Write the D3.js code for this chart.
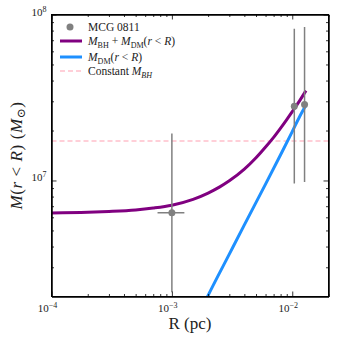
<!DOCTYPE html>
<html>
<head>
<meta charset="utf-8">
<script src="https://cdn.jsdelivr.net/npm/d3@7"></script>
<style>
body { margin: 0; background: #fff; }
text { font-family: "Liberation Serif", "DejaVu Serif", serif; fill: #222; }
</style>
</head>
<body>
<script>
// values
var obsName = "MCG 0811";
var obsR = [1.0e-3, 1.04e-2, 1.265e-2];
var obsM = [6.39e6, 2.80e7, 2.87e7];
var obsMLow = [2.12e6, 9.6e6, 9.8e6];
var obsMHigh = [1.92e7, 8.2e7, 8.4e7];
var obsRLow = [7.6e-4, 1.04e-2, 1.265e-2];
var obsRHigh = [1.27e-3, 1.04e-2, 1.265e-2];

var totalR = [1e-4, 2e-4, 3e-4, 5e-4, 7e-4, 1e-3, 1.5e-3, 2e-3, 2.5e-3, 3e-3, 4e-3, 5e-3, 6e-3, 7e-3, 8e-3, 9e-3, 1e-2, 1.15e-2, 1.3e-2];
var totalM = [6.38e6, 6.43e6, 6.50e6, 6.64e6, 6.82e6, 7.10e6, 7.70e6, 8.40e6, 9.15e6, 9.95e6, 1.17e7, 1.37e7, 1.59e7, 1.82e7, 2.07e7, 2.33e7, 2.60e7, 3.02e7, 3.48e7];

var dmR = [1.9e-3, 2e-3, 3e-3, 4e-3, 6e-3, 8e-3, 1e-2, 1.15e-2, 1.3e-2];
var dmM = [1.88e6, 2.03e6, 3.60e6, 5.40e6, 9.50e6, 1.43e7, 1.97e7, 2.42e7, 2.84e7];

var constBH = 1.73e7;

var xMajor = [1e-4, 1e-3, 1e-2];
var xMajorExp = ["\u22124", "\u22123", "\u22122"];
var xMinor = [2e-4, 3e-4, 4e-4, 5e-4, 6e-4, 7e-4, 8e-4, 9e-4, 2e-3, 3e-3, 4e-3, 5e-3, 6e-3, 7e-3, 8e-3, 9e-3, 2e-2];
var yMajor = [1e7, 1e8];
var yMajorExp = ["7", "8"];
var yMinor = [3e6, 4e6, 5e6, 6e6, 7e6, 8e6, 9e6, 2e7, 3e7, 4e7, 5e7, 6e7, 7e7, 8e7, 9e7];

var w = 343, h = 343;
var padL = 51.5, padR = 328.5, padT = 14.5, padB = 296.5;

var svg = d3.select("body").append("svg")
  .attr("width", w)
  .attr("height", h);

var x = d3.scaleLog().domain([1e-4, 2e-2]).range([padL, padR]);
var y = d3.scaleLog().domain([2e6, 1e8]).range([padB, padT]);

svg.append("clipPath").attr("id", "plotclip")
  .append("rect")
  .attr("x", padL).attr("y", padT)
  .attr("width", padR - padL).attr("height", padB - padT);

var plot = svg.append("g").attr("clip-path", "url(#plotclip)");

// constant BH mass
plot.append("line")
  .attr("x1", padL).attr("x2", padR)
  .attr("y1", y(constBH)).attr("y2", y(constBH))
  .attr("stroke", "pink")
  .attr("stroke-width", 1.5)
  .attr("stroke-dasharray", "5,3");

var line = d3.line()
  .x(function(d) { return x(d[0]); })
  .y(function(d) { return y(d[1]); })
  .curve(d3.curveMonotoneX);

plot.append("path")
  .datum(d3.zip(totalR, totalM))
  .attr("d", line)
  .attr("fill", "none")
  .attr("stroke", "purple")
  .attr("stroke-width", 3);

plot.append("path")
  .datum(d3.zip(dmR, dmM))
  .attr("d", line)
  .attr("fill", "none")
  .attr("stroke", "#1E90FF")
  .attr("stroke-width", 3);

// data points with error bars
var pts = plot.selectAll(".pt")
  .data(d3.range(obsR.length))
  .enter().append("g");

pts.append("line")
  .attr("x1", function(i) { return x(obsR[i]); })
  .attr("x2", function(i) { return x(obsR[i]); })
  .attr("y1", function(i) { return y(obsMLow[i]); })
  .attr("y2", function(i) { return y(obsMHigh[i]); })
  .attr("stroke", "gray").attr("stroke-width", 1.5);

pts.append("line")
  .attr("x1", function(i) { return x(obsRLow[i]); })
  .attr("x2", function(i) { return x(obsRHigh[i]); })
  .attr("y1", function(i) { return y(obsM[i]); })
  .attr("y2", function(i) { return y(obsM[i]); })
  .attr("stroke", "gray").attr("stroke-width", 1.5);

pts.append("circle")
  .attr("cx", function(i) { return x(obsR[i]); })
  .attr("cy", function(i) { return y(obsM[i]); })
  .attr("r", 3.5)
  .attr("fill", "gray");

// axes, ticks inside on all four sides
function addAxis(axisFn, scale, vals, size, tr) {
  var g = svg.append("g")
    .attr("transform", tr)
    .call(axisFn(scale).tickValues(vals).tickSizeInner(-size).tickSizeOuter(0).tickFormat(""));
  g.selectAll("path").attr("stroke", "#000");
  g.selectAll("line").attr("stroke", "#000").attr("stroke-width", 0.8);
  return g;
}
addAxis(d3.axisBottom, x, xMinor, 2.5, "translate(0," + padB + ")");
addAxis(d3.axisTop, x, xMinor, 2.5, "translate(0," + padT + ")");
addAxis(d3.axisLeft, y, yMinor, 2.5, "translate(" + padL + ",0)");
addAxis(d3.axisRight, y, yMinor, 2.5, "translate(" + padR + ",0)");
addAxis(d3.axisBottom, x, xMajor, 5, "translate(0," + padB + ")");
addAxis(d3.axisTop, x, xMajor, 5, "translate(0," + padT + ")");
addAxis(d3.axisLeft, y, yMajor, 5, "translate(" + padL + ",0)");
addAxis(d3.axisRight, y, yMajor, 5, "translate(" + padR + ",0)");

// frame
svg.append("rect")
  .attr("x", padL).attr("y", padT)
  .attr("width", padR - padL).attr("height", padB - padT)
  .attr("fill", "none").attr("stroke", "#000").attr("stroke-width", 1);

// tick labels with superscripts
xMajor.forEach(function(v, i) {
  var t = svg.append("text")
    .attr("x", x(v) - 4).attr("y", padB + 15)
    .attr("text-anchor", "middle")
    .attr("font-size", 11);
  t.append("tspan").text("10");
  t.append("tspan").attr("dy", -4).attr("font-size", 8).text(xMajorExp[i]);
});
yMajor.forEach(function(v, i) {
  var t = svg.append("text")
    .attr("x", padL - 5).attr("y", y(v) + 1)
    .attr("text-anchor", "end")
    .attr("font-size", 11);
  t.append("tspan").text("10");
  t.append("tspan").attr("dy", -4).attr("font-size", 8).text(yMajorExp[i]);
});

// rich text helper: parts = [text, kind]
function rich(t, parts, size) {
  parts.forEach(function(p) {
    var s = t.append("tspan").text(p[0]);
    if (p[1] === "i") s.attr("font-style", "italic");
    if (p[1] === "sub" || p[1] === "isub") {
      s.attr("font-size", size * 0.7).attr("dy", 3);
      if (p[1] === "isub") s.attr("font-style", "italic");
    }
    if (p[1] === "back") s.attr("dy", -3);
  });
}

// axis titles
svg.append("text")
  .attr("x", (padL + padR) / 2).attr("y", 329)
  .attr("text-anchor", "middle")
  .attr("font-size", 17)
  .text("R (pc)");

var yl = svg.append("text")
  .attr("transform", "translate(22," + ((padT + padB) / 2) + ") rotate(-90)")
  .attr("text-anchor", "middle")
  .attr("font-size", 17)
  .attr("letter-spacing", 0.6);
rich(yl, [["M", "i"], ["(", ""], ["r", "i"], [" < ", ""], ["R", "i"], [") (", ""], ["M", "i"], ["\u2299", "sub"], [")", "back"]], 17);

// legend
var lg = svg.append("g");
lg.append("circle").attr("cx", 70).attr("cy", 27).attr("r", 3.5).attr("fill", "gray");
lg.append("line").attr("x1", 60).attr("x2", 82).attr("y1", 41).attr("y2", 41)
  .attr("stroke", "purple").attr("stroke-width", 3);
lg.append("line").attr("x1", 60).attr("x2", 82).attr("y1", 57).attr("y2", 57)
  .attr("stroke", "#1E90FF").attr("stroke-width", 3);
lg.append("line").attr("x1", 60).attr("x2", 82).attr("y1", 71).attr("y2", 71)
  .attr("stroke", "pink").attr("stroke-width", 1.5).attr("stroke-dasharray", "5,3");

var fs = 11.5;
lg.append("text").attr("x", 88).attr("y", 31).attr("font-size", fs).text(obsName);
rich(lg.append("text").attr("x", 88).attr("y", 45).attr("font-size", fs),
  [["M", "i"], ["BH", "sub"], [" + ", "back"], ["M", "i"], ["DM", "sub"], ["(", "back"], ["r", "i"], [" < ", ""], ["R", "i"], [")", ""]], fs);
rich(lg.append("text").attr("x", 88).attr("y", 61).attr("font-size", fs),
  [["M", "i"], ["DM", "sub"], ["(", "back"], ["r", "i"], [" < ", ""], ["R", "i"], [")", ""]], fs);
rich(lg.append("text").attr("x", 88).attr("y", 75).attr("font-size", fs),
  [["Constant ", ""], ["M", "i"], ["BH", "isub"]], fs);
</script>
</body>
</html>
